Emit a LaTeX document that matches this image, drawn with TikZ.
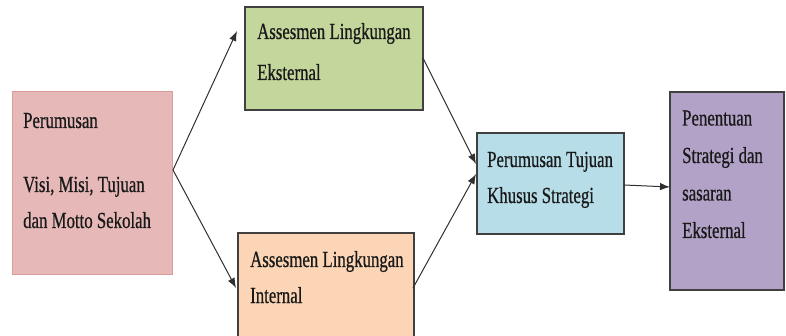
\documentclass[tikz,border=0pt]{standalone}
\usepackage{fontspec}
\setmainfont{Liberation Serif}[FakeStretch=0.73,FakeBold=0.6]
\usetikzlibrary{arrows.meta}
\definecolor{cpink}{HTML}{E6B9B8}
\definecolor{cpinkb}{HTML}{DA9C9A}
\definecolor{cgreen}{HTML}{C3D69B}
\definecolor{corange}{HTML}{FBD5B5}
\definecolor{cblue}{HTML}{B7DEE8}
\definecolor{cpurple}{HTML}{B3A2C7}
\definecolor{cborder}{HTML}{404040}
\definecolor{carrow}{HTML}{303030}
\begin{document}
\begin{tikzpicture}[x=1pt,y=-1pt,
  box/.style={draw=cborder, line width=1.3pt, anchor=north west, inner sep=0pt, outer sep=0pt},
  txt/.style={anchor=base west, inner sep=0pt, align=left, font=\fontsize{23}{36}\selectfont, text=black!90},
  conn/.style={draw=carrow, line width=1pt, -{Latex[length=10pt,width=7.5pt]}}]
\useasboundingbox (0,0) rectangle (786,336);
% boxes
\node[box, draw=cpinkb, line width=0.8pt, fill=cpink, minimum width=160pt, minimum height=183pt] (pink) at (12,91) {};
\node[box, fill=cgreen, minimum width=178pt, minimum height=103pt] (green) at (245,7) {};
\node[box, fill=corange, minimum width=176pt, minimum height=106pt] (orange) at (238,233) {};
\node[box, fill=cblue, minimum width=147pt, minimum height=101pt] (blue) at (477,133) {};
\node[box, fill=cpurple, minimum width=114pt, minimum height=198pt] (purple) at (670,92) {};
% texts (anchored at the baseline of the last line)
\node[txt] (pinkt) at (23,228) {Perumusan\\[28pt]Visi, Misi, Tujuan\\dan Motto Sekolah};
\node[txt] (greent) at (257,80) {Assesmen Lingkungan\\[5pt]Eksternal};
\node[txt] (oranget) at (250,303) {Assesmen Lingkungan\\Internal};
\node[txt] (bluet) at (487,203) {Perumusan Tujuan\\Khusus Strategi};
\node[txt, font=\fontsize{23}{37.5}\selectfont] (purplet) at (682,238) {Penentuan\\Strategi dan\\sasaran\\Eksternal};
% connector points
\coordinate (pout) at (173,170);
\coordinate (gin) at (237,31);
\coordinate (oin) at (236,288);
\coordinate (gout) at (423,58);
\coordinate (bin1) at (476,164);
\coordinate (oout) at (413,288);
\coordinate (bin2) at (476,174);
\coordinate (bout) at (624,185);
\coordinate (pin) at (670,187);
\draw[conn] (pout) -- (gin);
\draw[conn] (pout) -- (oin);
\draw[conn] (gout) -- (bin1);
\draw[conn] (oout) -- (bin2);
\draw[conn] (bout) -- (pin);
\end{tikzpicture}
\end{document}
